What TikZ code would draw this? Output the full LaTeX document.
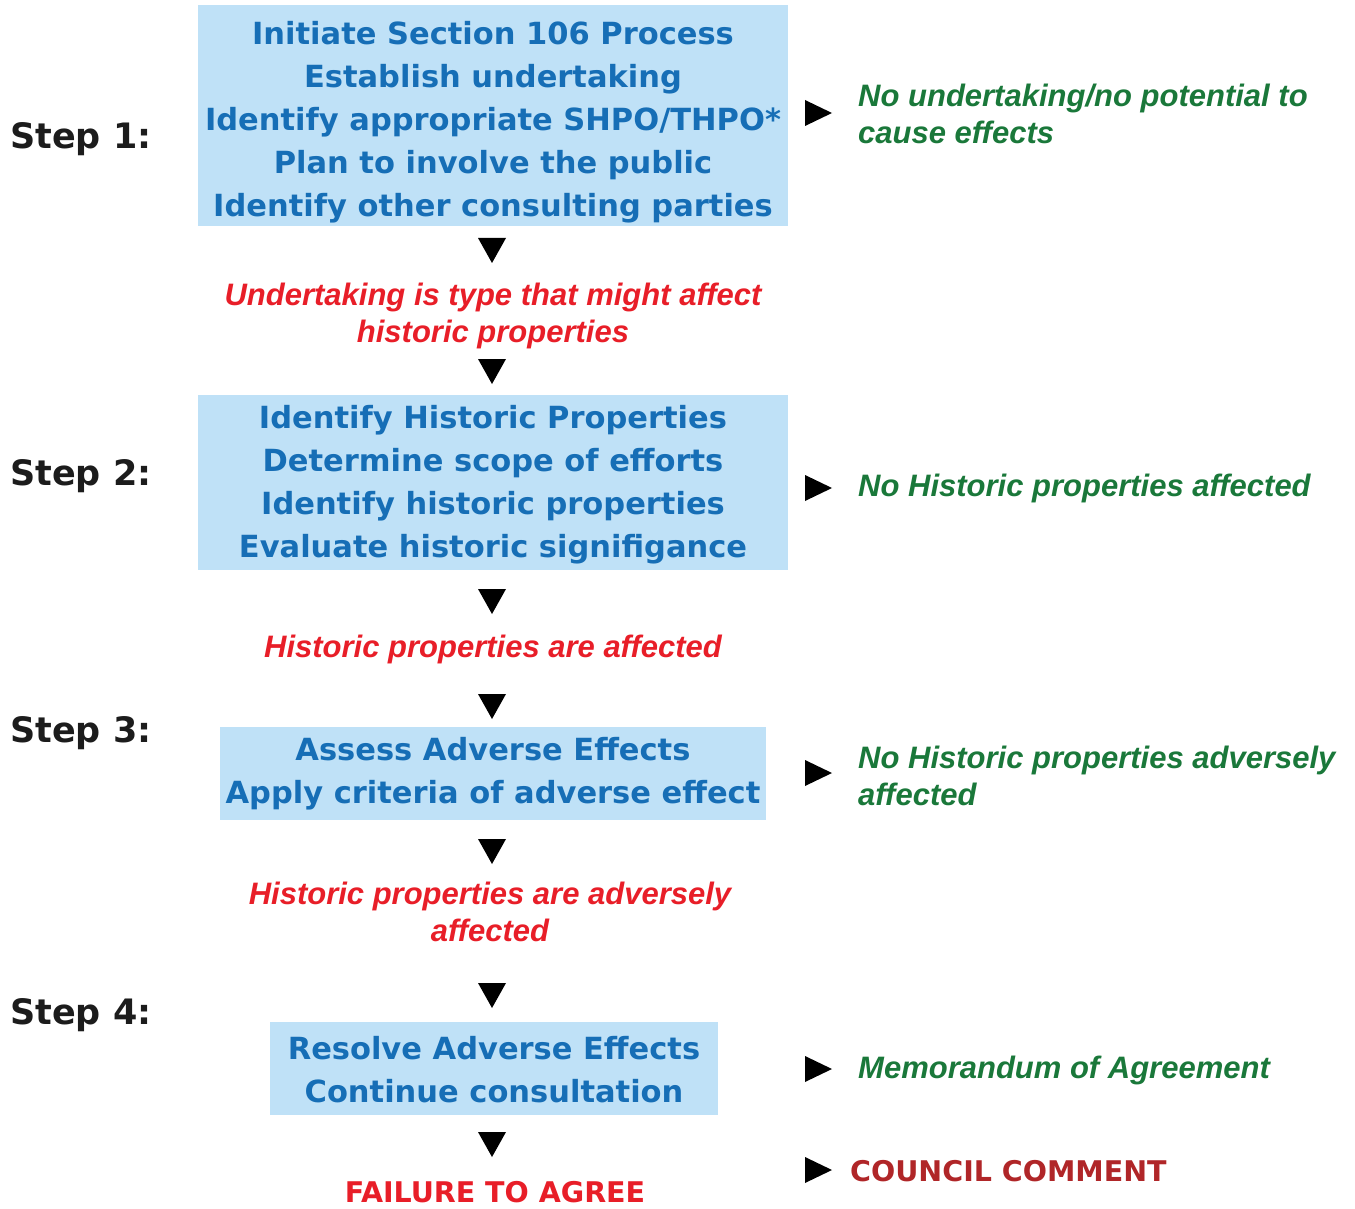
\documentclass[tikz,border=0pt]{standalone}
\usepackage{fontspec}
\setmainfont{DejaVu Sans}
\newfontfamily\arialfont{Liberation Sans}
\usetikzlibrary{positioning}

\definecolor{boxblue}{RGB}{191,225,247}
\definecolor{textblue}{RGB}{22,110,182}
\definecolor{okgreen}{RGB}{26,120,58}
\definecolor{stopred}{RGB}{232,30,40}
\definecolor{councilred}{RGB}{176,38,40}
\definecolor{steptext}{RGB}{28,28,28}

\tikzset{
  stepbox/.style={fill=boxblue, inner sep=0pt},
  boxtext/.style={inner sep=0pt, align=center, text=textblue,
    font=\fontsize{30.5}{43}\selectfont\bfseries},
  steplabel/.style={anchor=west, inner sep=0pt, text=steptext,
    font=\fontsize{35}{40}\selectfont\bfseries},
  outcome/.style={anchor=west, inner sep=0pt, align=left, text=okgreen,
    font=\arialfont\fontsize{31}{37}\selectfont\bfseries\itshape},
  findings/.style={inner sep=0pt, align=center, text=stopred,
    font=\arialfont\fontsize{31}{37}\selectfont\bfseries\itshape},
  caps/.style={inner sep=0pt, font=\fontsize{28.5}{34}\selectfont\bfseries},
  downmark/.pic={\fill[black] (-14,-12) -- (14,-12) -- (0,13) -- cycle;},
  rightmark/.pic={\fill[black] (-13,-13) -- (-13,13) -- (14,0) -- cycle;}
}

\begin{document}
\begin{tikzpicture}[x=1pt, y=-1pt]
\useasboundingbox (0,0) rectangle (1355,1209);

% step labels
\node[steplabel] (s1) at (10,139) {Step 1:};
\node[steplabel] (s2) at (10,476) {Step 2:};
\node[steplabel] (s3) at (10,733) {Step 3:};
\node[steplabel] (s4) at (10,1015) {Step 4:};

% process boxes
\node[stepbox, minimum width=590pt, minimum height=221pt] (b1) at (493,115.5) {};
\node[stepbox, minimum width=590pt, minimum height=175pt] (b2) at (493,482.5) {};
\node[stepbox, minimum width=546pt, minimum height=93pt] (b3) at (493,773.5) {};
\node[stepbox, minimum width=448pt, minimum height=93pt] (b4) at (494,1068.5) {};

\node[boxtext] (t1) at (493,122)
  {Initiate Section 106 Process\\ Establish undertaking\\
   Identify appropriate SHPO/THPO*\\ Plan to involve the public\\
   Identify other consulting parties};
\node[boxtext] (t2) at (493,484.5)
  {Identify Historic Properties\\ Determine scope of efforts\\
   Identify historic properties\\ Evaluate historic signifigance};
\node[boxtext] (t3) at (493,773.5)
  {Assess Adverse Effects\\ Apply criteria of adverse effect};
\node[boxtext] (t4) at (494,1069.5)
  {Resolve Adverse Effects\\ Continue consultation};

% findings between steps
\node[findings] (f1) at (493,315.5) {Undertaking is type that might affect\\ historic properties};
\node[findings] (f2) at (493,649.5) {Historic properties are affected};
\node[findings] (f3) at (490,912) {Historic properties are adversely\\ affected};
\node[caps, text=stopred] (fail) at (495,1192) {FAILURE TO AGREE};

% exits to the right
\node[outcome] (o1) at (858,113.5) {No undertaking/no potential to\\ cause effects};
\node[outcome] (o2) at (858,488.5) {No Historic properties affected};
\node[outcome] (o3) at (858,775.5) {No Historic properties adversely\\ affected};
\node[outcome] (o4) at (858,1070.5) {Memorandum of Agreement};
\node[caps, anchor=west, text=councilred] (cc) at (850,1171.5) {COUNCIL COMMENT};

% markers
\foreach \y in {250,371,601,706,851,995,1144}
  \pic at (492,\y) {downmark};
\foreach \y in {113,488,773,1069,1170}
  \pic at (818,\y) {rightmark};
\end{tikzpicture}
\end{document}
